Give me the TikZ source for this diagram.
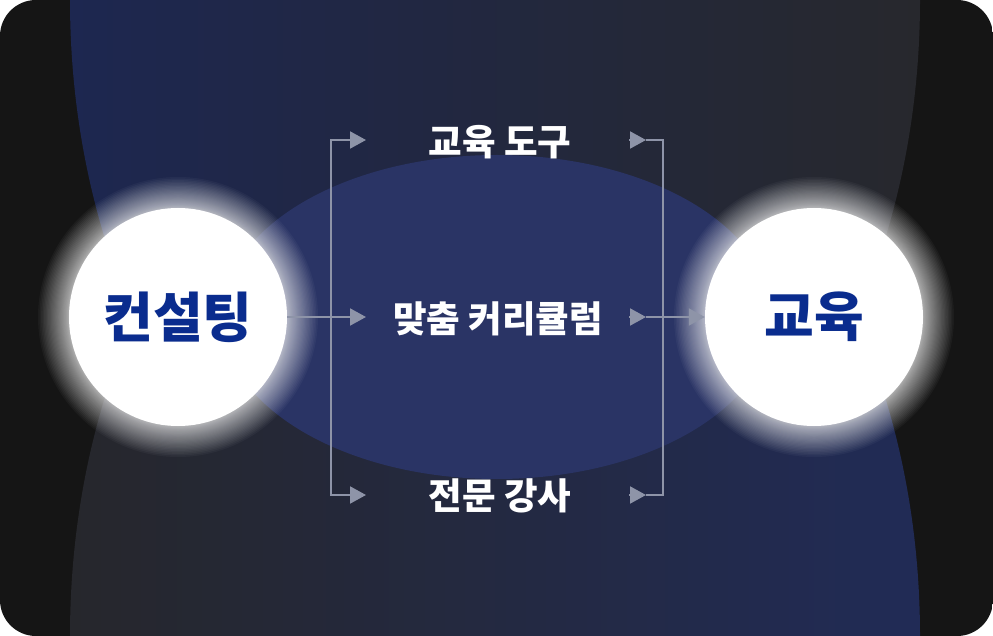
\documentclass[tikz,border=0pt]{standalone}
\usepackage{fontspec}
\newfontfamily\kr{Noto Sans CJK KR}
\usetikzlibrary{arrows.meta}
\definecolor{bgdark}{HTML}{151515}
\definecolor{topL}{HTML}{1D2750}
\definecolor{topR}{HTML}{27282D}
\definecolor{botL}{HTML}{26272C}
\definecolor{botR}{HTML}{212B56}
\definecolor{midblue}{HTML}{2A3465}
\definecolor{navy}{HTML}{0A2C8E}
\definecolor{linegray}{HTML}{8E94A8}
\tikzset{
  bigcircle/.style={circle, fill=white, minimum size=218pt, inner sep=0pt,
    text=navy, font=\kr\bfseries\fontsize{54}{58}\selectfont},
  label/.style={inner sep=0pt, text=white, font=\kr\bfseries\fontsize{36.5}{40}\selectfont},
  ln/.style={draw=linegray, line width=2pt},
  conn/.style={ln, -{Triangle[length=16pt, width=17pt]}},
}
\begin{document}
\begin{tikzpicture}[x=1pt, y=-1pt]
\useasboundingbox (0,0) rectangle (993,636);
\begin{scope}
  \clip[rounded corners=36pt] (0,0) rectangle (993,636);
  \fill[bgdark] (0,0) rectangle (993,636);
  \begin{scope}
    \clip (0,0) rectangle (993,317);
    \shade[left color=topL, right color=topR] (495,0) ellipse [x radius=425, y radius=600];
  \end{scope}
  \begin{scope}
    \clip (0,317) rectangle (993,636);
    \shade[left color=botL, right color=botR] (495,636) ellipse [x radius=425, y radius=600];
  \end{scope}
  \fill[midblue] (497,317) ellipse [x radius=275, y radius=162];
  % glows
  \foreach \i in {1,...,40} {
    \fill[white, opacity=0.036] (178,317) circle ({108+32*(\i/40)^2});
    \fill[white, opacity=0.036] (814,317) circle ({108+32*(\i/40)^2});
  }
\end{scope}

% bracket coordinates
\coordinate (lvt) at (331,140);
\coordinate (lvb) at (331,495);
\coordinate (lvm) at (331,317);
\coordinate (lt1) at (366,140);
\coordinate (lt2) at (366,317);
\coordinate (lt3) at (366,495);
\coordinate (rs1) at (629,140);
\coordinate (rs2) at (629,317);
\coordinate (rs3) at (629,495);
\coordinate (rh1) at (646,140);
\coordinate (rh2) at (646,317);
\coordinate (rh3) at (646,495);
\coordinate (rvt) at (663,140);
\coordinate (rvb) at (663,495);

\node[bigcircle] (cons) at (178,317) {컨설팅};
\node[bigcircle] (edu) at (814,317) {교육};

\node[label] (t1) at (500,142) {교육 도구};
\node[label] (t2) at (498,319) {맞춤 커리큘럼};
\node[label] (t3) at (500,496) {전문 강사};

% left bracket
\draw[conn] (lvm) -- (lvt) -- (lt1);
\draw[conn] (lvm) -- (lvb) -- (lt3);
\draw[conn] (cons.east) -- (lt2);

% right bracket
\draw[ln] (rh1) -- (rvt) -- (rvb) -- (rh3);
\draw[conn] (rs1) -- (rh1);
\draw[conn] (rs2) -- (rh2);
\draw[conn] (rs3) -- (rh3);
\draw[conn] (rh2) -- (edu.west);
\end{tikzpicture}
\end{document}
